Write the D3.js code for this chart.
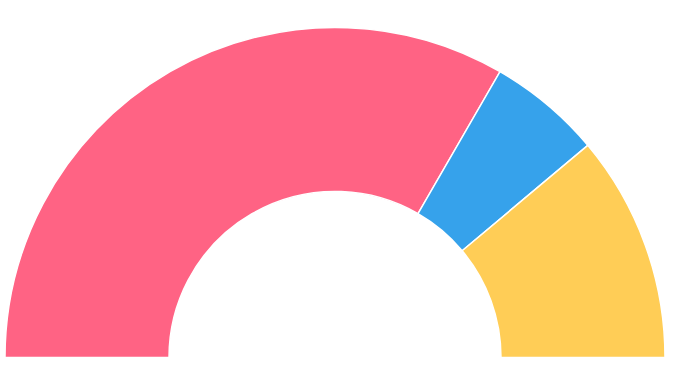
<!DOCTYPE html>
<html lang="en">
<head>
<meta charset="utf-8">
<title>Half doughnut</title>
<script src="https://cdn.jsdelivr.net/npm/d3@7"></script>
<style>
  html, body { margin: 0; padding: 0; background: #fff; }
</style>
</head>
<body>
<script>
// data
var labels = ["Red", "Blue", "Yellow"];
var values = [300, 50, 100];
var colors = ["rgb(255, 99, 132)", "rgb(54, 162, 235)", "rgb(255, 205, 86)"];

var width = 673, height = 371;
var cx = 335, cy = 357.5;
var outer = 330, inner = 166;

var svg = d3.select("body").append("svg")
    .attr("width", width)
    .attr("height", height);

var pie = d3.pie()
    .sort(null)
    .startAngle(-Math.PI / 2)
    .endAngle(Math.PI / 2)
    .value(function (d) { return d; });

var arc = d3.arc()
    .innerRadius(inner)
    .outerRadius(outer);

var g = svg.append("g")
    .attr("transform", "translate(" + cx + "," + cy + ")");

g.selectAll("path")
    .data(pie(values))
    .enter()
    .append("path")
    .attr("d", arc)
    .attr("fill", function (d, i) { return colors[i]; })
    .attr("stroke", "#fff")
    .attr("stroke-width", 1.5)
    .append("title")
    .text(function (d, i) { return labels[i] + ": " + d.data; });
</script>
</body>
</html>
